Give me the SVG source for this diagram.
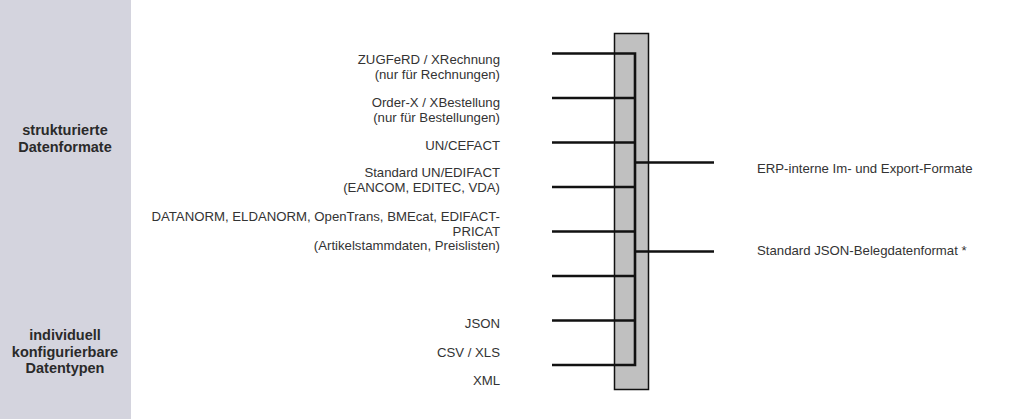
<svg xmlns="http://www.w3.org/2000/svg" width="1024" height="419" viewBox="0 0 1024 419">
<style>
.t{font-family:"Liberation Sans",Arial,sans-serif;font-size:13.2px;fill:#333}
.e{text-anchor:end}
.b{font-weight:bold;text-anchor:middle;font-size:14.5px;fill:#2a2a2a}
.ln{stroke:#111;stroke-width:2.6;fill:none}
</style>
<rect width="1024" height="419" fill="#fff"/>
<g id="sidebar">
<rect x="0" y="0" width="131" height="419" fill="#d4d4de"/>
<text class="t b" x="65" y="135">strukturierte</text>
<text class="t b" x="65" y="152">Datenformate</text>
<text class="t b" x="65" y="340">individuell</text>
<text class="t b" x="65" y="357">konfigurierbare</text>
<text class="t b" x="65" y="373">Datentypen</text>
</g>
<g id="hub">
<rect x="614.5" y="33.5" width="34" height="356" fill="#c0c0c0" stroke="#111" stroke-width="1.5"/>
</g>
<g id="connectors">
<path class="ln" d="M552 53.5H635V365H552"/>
<path class="ln" d="M552 98H635M552 142.5H635M552 187H635M552 231.5H635M552 276H635M552 320.5H635"/>
<path class="ln" d="M635 162.5H714M635 251.5H714"/>
</g>
<g id="inputs">
<text class="t e" x="500" y="64">ZUGFeRD / XRechnung</text>
<text class="t e" x="500" y="79">(nur für Rechnungen)</text>
<text class="t e" x="500" y="107">Order-X / XBestellung</text>
<text class="t e" x="500" y="122">(nur für Bestellungen)</text>
<text class="t e" x="500" y="150">UN/CEFACT</text>
<text class="t e" x="500" y="177">Standard UN/EDIFACT</text>
<text class="t e" x="500" y="192">(EANCOM, EDITEC, VDA)</text>
<text class="t e" x="500" y="221">DATANORM, ELDANORM, OpenTrans, BMEcat, EDIFACT-</text>
<text class="t e" x="500" y="236">PRICAT</text>
<text class="t e" x="500" y="250">(Artikelstammdaten, Preislisten)</text>
<text class="t e" x="500" y="328">JSON</text>
<text class="t e" x="500" y="357">CSV / XLS</text>
<text class="t e" x="500" y="385">XML</text>
</g>
<g id="outputs">
<text class="t" x="757" y="172.5">ERP-interne Im- und Export-Formate</text>
<text class="t" x="757" y="255">Standard JSON-Belegdatenformat *</text>
</g>
</svg>
